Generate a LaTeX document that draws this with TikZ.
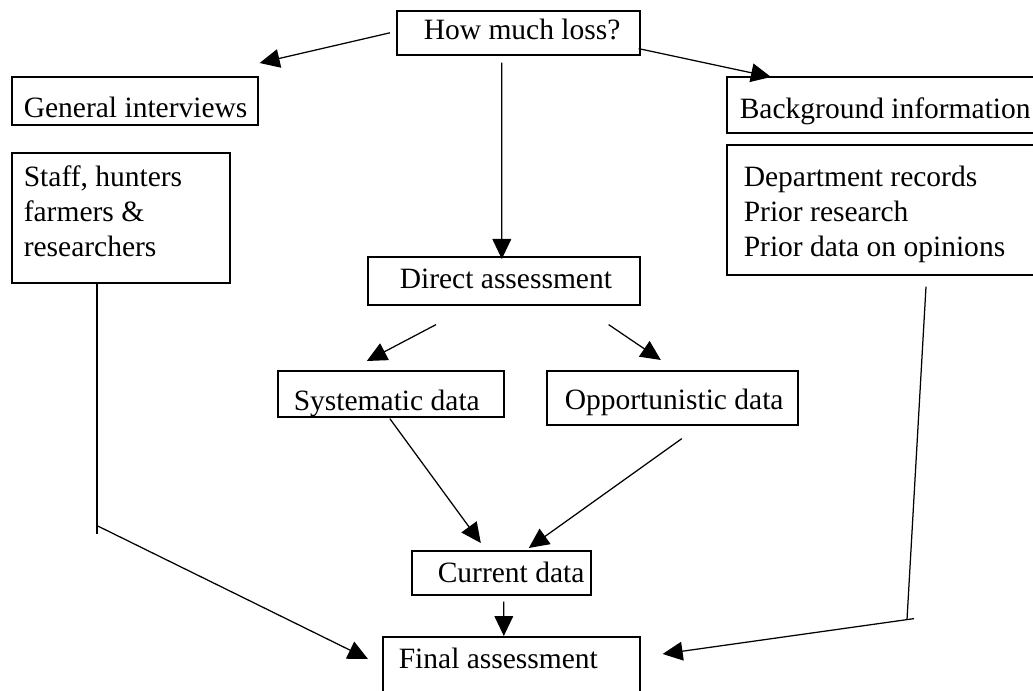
\documentclass[tikz,border=0pt]{standalone}
\usepackage{fontspec}
\setmainfont{Liberation Serif}
\usetikzlibrary{arrows.meta}
\usetikzlibrary{calc}

\tikzset{
	box/.style={draw, line width=0.65pt, anchor=north west, inner sep=0pt, align=flush left, font=\fontsize{11.8}{14}\selectfont},
	flow/.style={line width=0.5pt},
}

\begin{document}
\begin{tikzpicture}[x=0.4pt, y=-0.4pt, >={Triangle[length=8pt,width=7.5pt]}]
		\useasboundingbox (0, 0) rectangle (1033, 691);
		\clip (0, 0) rectangle (1033, 691);
		\node[box, minimum width=97.2pt, text width=75.6pt, text height=11.6pt, text depth=6pt] (loss) at (396, 10) {\mbox{How much loss?}};
		\node[box, minimum width=98.4pt, text width=88.8pt, text height=16.4pt, text depth=2.8pt] (general) at (11, 76) {\mbox{General interviews}};
		\node[box, minimum width=87.2pt, text width=77.6pt, text height=13.6pt, text depth=38.4pt] (staff) at (11, 152) {Staff, hunters\\farmers \&\\researchers};
		\node[box, minimum width=130.4pt, text width=120pt, text height=16.8pt, text depth=5.6pt] (background) at (726, 76) {\mbox{Background information}};
		\node[box, minimum width=133.6pt, text width=120pt, text height=16.8pt, text depth=35.2pt] (dept) at (726, 144) {Department records\\Prior research\\Prior data on opinions};
		\node[box, minimum width=108.8pt, text width=83.2pt, text height=12.8pt, text depth=6.4pt] (direct) at (367, 256) {\mbox{Direct assessment}};
		\node[box, minimum width=90.4pt, text width=77.6pt, text height=16pt, text depth=2.4pt] (systematic) at (277, 370) {\mbox{Systematic data}};
		\node[box, minimum width=100.4pt, text width=86pt, text height=15.6pt, text depth=6pt] (opportunistic) at (546, 370) {\mbox{Opportunistic data}};
		\node[box, minimum width=71.6pt, text width=50.8pt, text height=12.8pt, text depth=4.8pt] (current) at (411, 550) {\mbox{Current data}};
		\node[box, minimum width=102.8pt, text width=90pt, text height=12.8pt, text depth=24pt] (final) at (382, 636) {\mbox{Final assessment}};

		\draw[flow, ->] ($(loss.west)+(-6,0)$) -- ($(general.north east)+(1,-13)$);
		\draw[flow, ->] ($(loss.south east)+(-2,-7)$) -- ($(background.north west)+(45,1)$);
		\draw[flow, ->] ($(loss.south)+(-16.5,7)$) -- ($(direct.north)+(-2,3)$);
		\draw[flow, ->] ($(direct.south west)+(69,19)$) -- ($(systematic.north)+(-24,-9)$);
		\draw[flow, ->] ($(direct.south east)+(-32,19)$) -- ($(opportunistic.north)+(-11.5,-10)$);
		\draw[flow, ->] ($(systematic.south)+(-1,1)$) -- ($(current.north)+(-20.5,-7)$);
		\draw[flow, ->] ($(opportunistic.south)+(9.5,13)$) -- ($(current.north)+(27.5,-2)$);
		\draw[flow, ->] ($(current.south)+(2.5,6)$) -- ($(final.north)+(-7.5,0)$);

		\coordinate (kneeS) at ($(staff.south west)+(86,242)$);
		\draw[flow] ($(staff.south west)+(86,0)$) -- ($(kneeS)+(0,8)$);
		\draw[flow, ->] (kneeS) -- ($(final.north west)+(-14,23)$);
		\coordinate (kneeD) at ($(dept.south west)+(181,344)$);
		\draw[flow] ($(dept.south west)+(200,11)$) -- (kneeD);
		\draw[flow, ->] ($(kneeD)+(7,-1)$) -- ($(final.north east)+(22,18)$);
	\end{tikzpicture}
\end{document}
